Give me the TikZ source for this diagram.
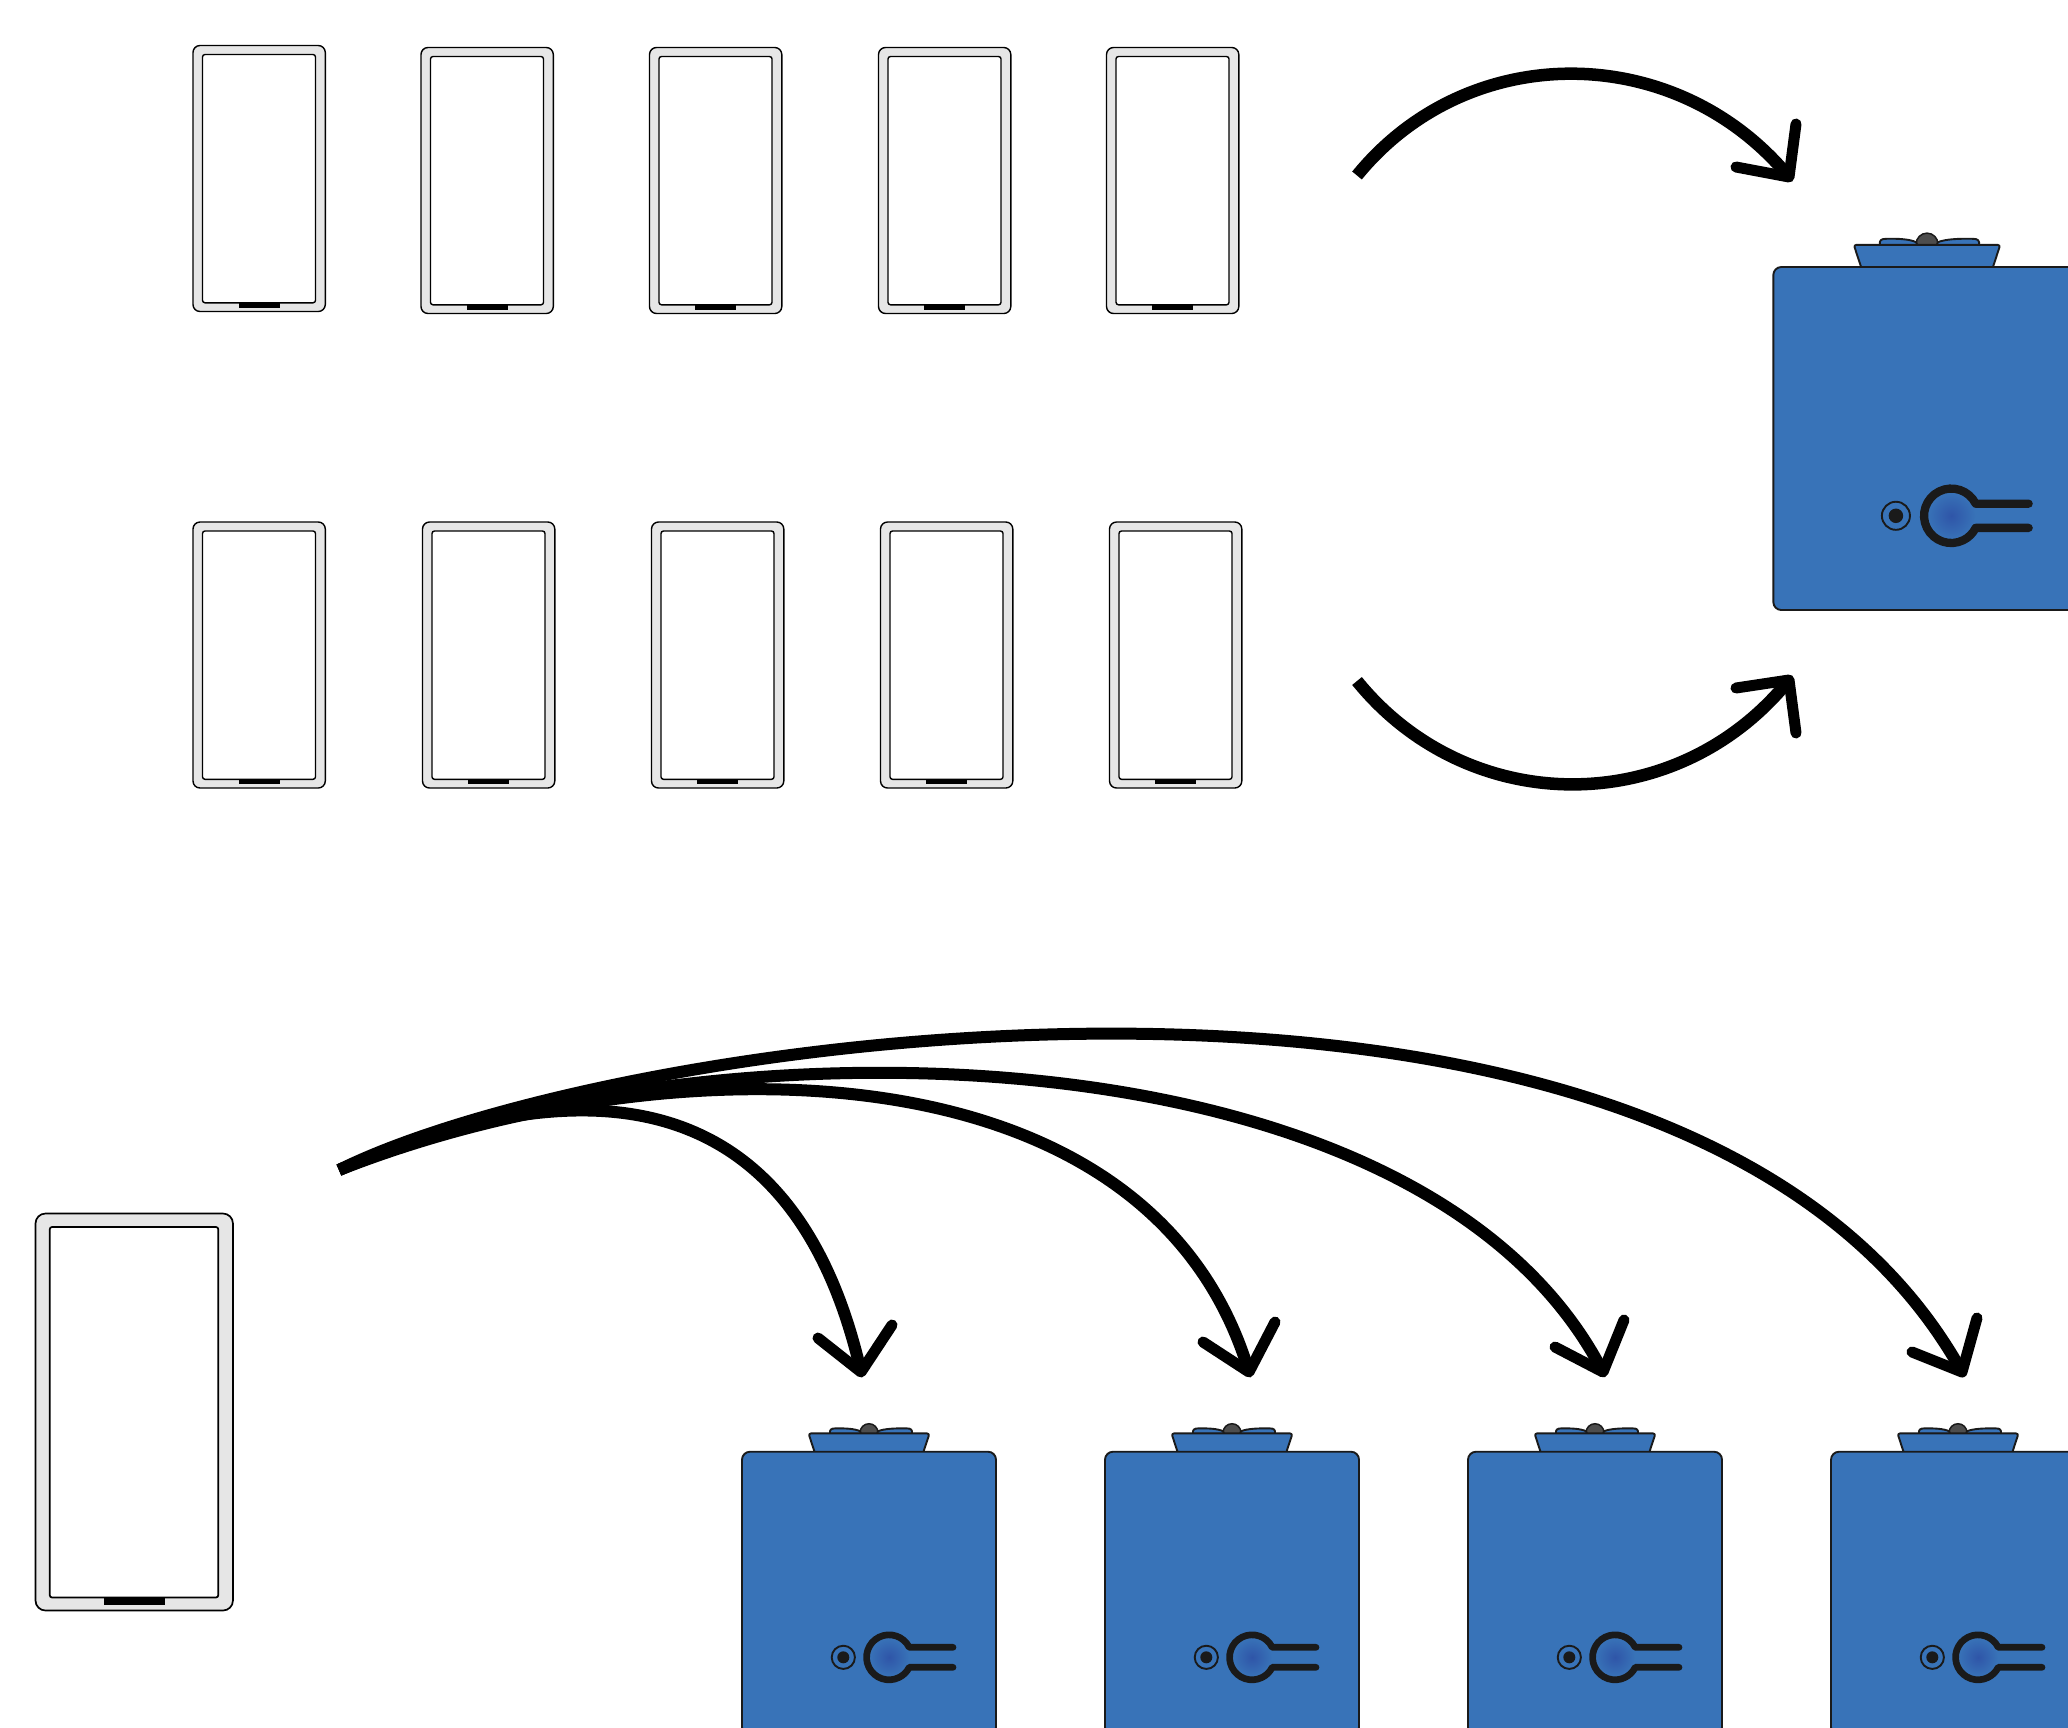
\documentclass[tikz,border=0pt]{standalone}
\definecolor{unitblue}{HTML}{3873B8}
\definecolor{unitdeep}{HTML}{2F55A8}
\definecolor{unitline}{HTML}{1A1A1A}
\definecolor{knobgrey}{HTML}{4D4D4D}
\definecolor{phonegrey}{HTML}{E6E6E6}
\tikzset{
  flow/.style={draw=black,line width=12pt,line cap=butt},
  bigflow/.style={draw=black,line width=12.5pt,line cap=butt},
  headstroke/.style={draw=black,line width=11pt,line cap=round,line join=round},
  unitpart/.style={draw=unitline,fill=unitblue,line width=1.9pt,line join=round},
  keystroke/.style={draw=unitline,line cap=round,line join=round},
}
% name, left, top, scale, outer radius, line width
\newcommand{\phonedev}[6]{%
  \begin{scope}[shift={(#2,#3)},scale=#4]
    \draw[fill=phonegrey,draw=black,line width=#6,rounded corners=#5] (0,0) rectangle (132.3,266);
    \draw[fill=white,draw=black,line width=#6,rounded corners=2.5pt] (9.5,9) rectangle (122.5,257.3);
    \fill[black] (45.6,257.3) rectangle (86.6,262);
    \coordinate (#1) at (66,133);
  \end{scope}}
% name, centre x, top y, scale, keyhole line width
\newcommand{\unitdev}[5]{%
  \begin{scope}[shift={(#2,#3)},scale=#4]
    \draw[draw=unitline,fill=knobgrey,line width=1.5pt] (0,-19) circle (9);
    \draw[unitpart] (-39,-18) .. controls (-39.5,-22) and (-38,-23.3) .. (-34,-23.3) .. controls (-24,-23.6) and (-14,-23) .. (-9,-20.5) -- (-8,-18) -- cycle;
    \draw[unitpart] (43,-18) .. controls (43.5,-22) and (42,-23.3) .. (38,-23.3) .. controls (26,-23.6) and (15,-23) .. (9,-20.5) -- (8,-18) -- cycle;
    \draw[unitpart,rounded corners=2.5pt] (-54.5,0) -- (-60.5,-18.3) -- (60.5,-18.3) -- (54.5,0);
    \draw[unitpart,rounded corners=8pt] (-127,0) rectangle (127,283.5);
    \coordinate (#1) at (0,140);
    \draw[draw=unitline,line width=1.9pt] (-25.7,205.6) circle (11.6);
    \fill[unitline] (-25.7,205.6) circle (6);
    \shade[inner color=unitdeep,outer color=unitblue] (20,205.6) circle (20);
    \draw[keystroke,line width=#5] (84,195.6) -- (40.2,195.6) arc[start angle=-26.4,end angle=-333.6,radius=22.5] -- (84,215.6);
  \end{scope}}
\begin{document}
\begin{tikzpicture}[x=1pt,y=-1pt]
\useasboundingbox (0,0) rectangle (2068,1727);
\clip (0,0) rectangle (2068,1727);

% top two rows of phones
\phonedev{pa}{193}{45.5}{1}{7pt}{1.4pt}
\phonedev{pb}{421}{47.5}{1}{7pt}{1.4pt}
\phonedev{pc}{649.5}{47.5}{1}{7pt}{1.4pt}
\phonedev{pd}{878.5}{47.5}{1}{7pt}{1.4pt}
\phonedev{pe}{1106.5}{47.5}{1}{7pt}{1.4pt}
\phonedev{qa}{193}{522}{1}{7pt}{1.4pt}
\phonedev{qb}{422.5}{522}{1}{7pt}{1.4pt}
\phonedev{qc}{651.5}{522}{1}{7pt}{1.4pt}
\phonedev{qd}{880.5}{522}{1}{7pt}{1.4pt}
\phonedev{qe}{1109.5}{522}{1}{7pt}{1.4pt}
% large phone
\phonedev{big}{35.5}{1213.5}{1.4925}{10pt}{1.7pt}

% units
\unitdev{ubig}{1927}{267}{1.21}{8.3pt}
\unitdev{ua}{869}{1451.7}{1}{6.7pt}
\unitdev{ub}{1232}{1451.7}{1}{6.7pt}
\unitdev{uc}{1595}{1451.7}{1}{6.7pt}
\unitdev{ud}{1958}{1451.7}{1}{6.7pt}

% connector ends
\coordinate (s1) at (1357,175.5);
\coordinate (t1) at (1789,177);
\coordinate (s2) at (1357,681);
\coordinate (t2) at (1789,680);
\coordinate (s3) at (339,1170);
\coordinate (ta) at (861,1372);
\coordinate (tb) at (1249,1372);
\coordinate (tc) at (1603,1372);
\coordinate (td) at (1962,1372);

% top pair
\draw[bigflow] (s1) .. controls (1469,38) and (1677,41) .. (t1);
\draw[headstroke] (1736,167) -- (t1) -- (1796,124);
\draw[bigflow] (s2) .. controls (1469,819) and (1677,819) .. (t2);
\draw[headstroke] (1736,688) -- (t2) -- (1796,733);

% fan
\draw[flow] (s3) .. controls (560,1075) and (790,1062) .. (ta);
\draw[headstroke] (818,1338) -- (ta) -- (892,1325);
\draw[flow] (s3) .. controls (670,1040) and (1150,1040) .. (tb);
\draw[headstroke] (1203,1342) -- (tb) -- (1275,1322);
\draw[flow] (s3) .. controls (695,1017) and (1420,1017) .. (tc);
\draw[headstroke] (1555,1347) -- (tc) -- (1624,1320);
\draw[flow] (s3) .. controls (620,1030) and (1690,880) .. (td);
\draw[headstroke] (1912,1352) -- (td) -- (1977,1318);
\end{tikzpicture}
\end{document}
